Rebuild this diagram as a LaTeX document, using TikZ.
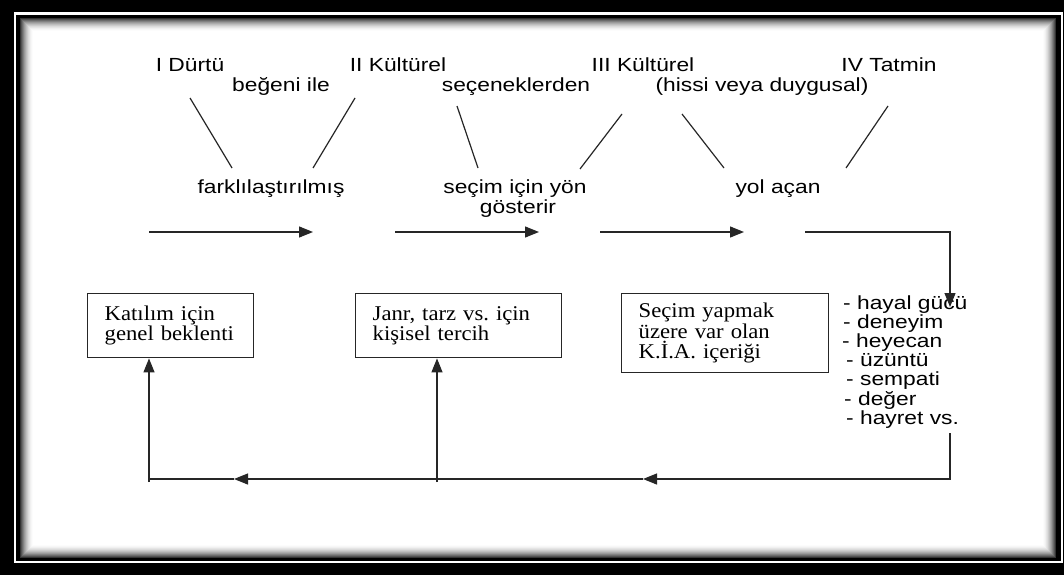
\documentclass[tikz,border=0pt]{standalone}
\usepackage{fontspec}
\usepackage{tikz}
\usetikzlibrary{arrows.meta}
\newfontfamily\sansfnt[FakeStretch=1.2]{Liberation Sans}
\newfontfamily\seriffnt[FakeStretch=1.08]{Liberation Serif}
\frenchspacing

\begin{document}
\begin{tikzpicture}[x=1pt,y=-1pt,
    lbl/.style={font=\sansfnt\fontsize{19}{22}\selectfont, inner sep=0pt, anchor=base},
    box/.style={draw=black!85, line width=1.4pt, anchor=north west, align=left,
        font=\seriffnt\fontsize{21}{20.5}\selectfont, inner xsep=17pt, inner ysep=0pt},
    ln/.style={draw=black!85, line width=1.2pt},
    arr/.style={ln, -{Triangle[length=14pt,width=11pt]}}]
    \useasboundingbox (0,0) rectangle (1064,575);
    \path[fill=black] (0,0) rectangle (1064,575);
    \draw[white, line width=2.5pt] (15,13.5) rectangle (1062,562);
    \foreach \i in {0,...,14}
    {
        \pgfmathtruncatemacro\shade{80*(1-\i/14)^2}
        \path[fill=black!\shade] (20+\i,18+\i) rectangle (1056-\i,558-\i);
    }

    \node[lbl] (durtu) at (190,72) {I Dürtü};
    \node[lbl] (kult2) at (398,72) {II Kültürel};
    \node[lbl] (kult3) at (643,72) {III Kültürel};
    \node[lbl] (tatmin) at (889,72) {IV Tatmin};
    \node[lbl] (begeni) at (281,92) {beğeni ile};
    \node[lbl] (secenek) at (516,92) {seçeneklerden};
    \node[lbl] (hissi) at (762,92) {(hissi veya duygusal)};
    \node[lbl] (farkli) at (271,193) {farklılaştırılmış};
    \node[lbl] (secim) at (515,193) {seçim için yön};
    \node[lbl] (goster) at (518,213) {gösterir};
    \node[lbl] (yol) at (778,193) {yol açan};

    \coordinate (d1a) at (190,98);  \coordinate (d1b) at (232,168);
    \coordinate (d2a) at (355,98);  \coordinate (d2b) at (313,168);
    \coordinate (d3a) at (457,106); \coordinate (d3b) at (478,168);
    \coordinate (d4a) at (622,114); \coordinate (d4b) at (580,169);
    \coordinate (d5a) at (682,114); \coordinate (d5b) at (724,168);
    \coordinate (d6a) at (888,106); \coordinate (d6b) at (846,168);
    \foreach \n in {1,...,6} \draw[ln] (d\n a) -- (d\n b);

    \coordinate (a1s) at (149,232); \coordinate (a1e) at (313,232);
    \coordinate (a2s) at (395,232); \coordinate (a2e) at (539,232);
    \coordinate (a3s) at (600,232); \coordinate (a3e) at (744,232);
    \foreach \n in {1,2,3} \draw[arr] (a\n s) -- (a\n e);

    \node[box, minimum width=166pt, minimum height=64pt, text width=132pt] (katilim) at (87,293)
        {Katılım için\\genel beklenti};
    \node[box, minimum width=206pt, minimum height=64pt, text width=172pt] (janr) at (355,293)
        {Janr, tarz vs. için\\kişisel tercih};
    \node[box, minimum width=207pt, minimum height=79pt, text width=173pt] (icerik) at (621,293)
        {Seçim yapmak\\üzere var olan\\K.İ.A. içeriği};

    \foreach \x/\t [count=\i] in {843/- hayal gücü, 843/- deneyim, 842/- heyecan, 846/- üzüntü,
        846/- sempati, 844/- değer, 846/- hayret vs.}
        \node[lbl, anchor=base west] (duygu\i) at (\x,309+19.2*\i-19.2) {\t};

    \coordinate (r1) at (805,232);
    \coordinate (r2) at (950,232);
    \coordinate (r3) at (950,307);
    \draw[arr] (r1) -- (r2) -- (r3);

    \coordinate (b1) at (950,433);
    \coordinate (b2) at (950,479);
    \coordinate (b3) at (643,479);
    \coordinate (b4) at (234,479);
    \coordinate (b5) at (149,479);
    \draw[arr] (b1) -- (b2) -- (b3);
    \draw[arr] (b3) -- (b4);
    \draw[ln] (b4) -- (b5);

    \coordinate (u1) at (149,482);
    \coordinate (u2) at (437,482);
    \draw[arr] (u1) -- (u1 |- katilim.south);
    \draw[arr] (u2) -- (u2 |- janr.south);
\end{tikzpicture}
\end{document}
